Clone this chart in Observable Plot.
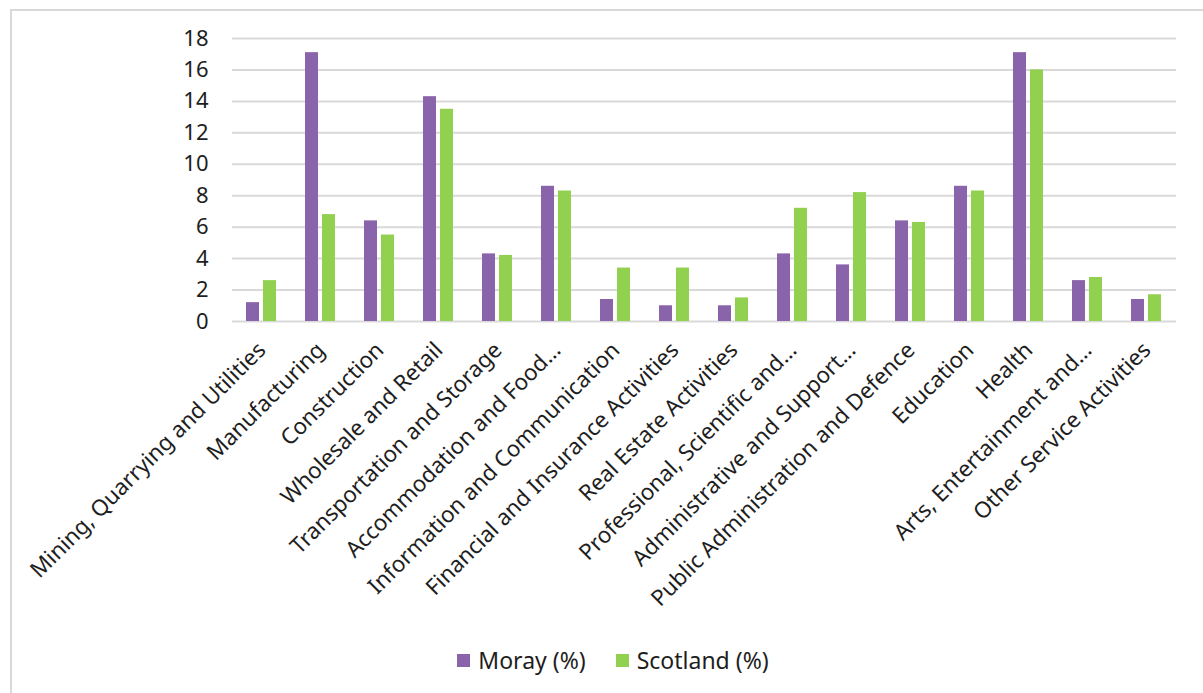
<!DOCTYPE html>
<html>
<head>
<meta charset="utf-8">
<script src="https://cdn.jsdelivr.net/npm/d3@7"></script>
<script src="https://cdn.jsdelivr.net/npm/@observablehq/plot@0.6"></script>
<style>
  html, body { margin: 0; padding: 0; background: #fff; overflow: hidden; width: 1203px; height: 693px; }
  #frame { position: absolute; left: 10px; top: 9px; width: 1300px; height: 800px; border: 2px solid #d9d9d9; box-sizing: border-box; }
  #chart { position: absolute; left: 0; top: 0; }
  #legend { position: absolute; left: 0; top: 644px; width: 1226px; display: flex; justify-content: center; gap: 30px;
            font-family: "Noto Sans", sans-serif; font-size: 23px; color: #1e1e1e; }
  .item { display: flex; align-items: center; gap: 8px; }
  .sw { width: 13px; height: 13px; display: inline-block; }
</style>
</head>
<body>
<div id="frame"></div>
<div id="chart"></div>
<div id="legend"></div>
<script>
const categories = [
  "Mining, Quarrying and Utilities",
  "Manufacturing",
  "Construction",
  "Wholesale and Retail",
  "Transportation and Storage",
  "Accommodation and Food…",
  "Information and Communication",
  "Financial and Insurance Activities",
  "Real Estate Activities",
  "Professional, Scientific and…",
  "Administrative and Support…",
  "Public Administration and Defence",
  "Education",
  "Health",
  "Arts, Entertainment and…",
  "Other Service Activities"
];
const moray    = [1.2, 17.1, 6.4, 14.3, 4.3, 8.6, 1.4, 1.0, 1.0, 4.3, 3.6, 6.4, 8.6, 17.1, 2.6, 1.4];
const scotland = [2.6, 6.8, 5.5, 13.5, 4.2, 8.3, 3.4, 3.4, 1.5, 7.2, 8.2, 6.3, 8.3, 16.0, 2.8, 1.7];
const series = ["Moray (%)", "Scotland (%)"];
const colors = ["#8a64ab", "#92d050"];
const yTicks = [0, 2, 4, 6, 8, 10, 12, 14, 16, 18];

const data = categories.flatMap((c, i) => [
  {category: c, series: series[0], value: moray[i]},
  {category: c, series: series[1], value: scotland[i]}
]);

const chart = Plot.plot({
  width: 1203,
  height: 640,
  marginLeft: 230,
  marginRight: 25,
  marginTop: 38,
  marginBottom: 319,
  style: {fontFamily: "Noto Sans, sans-serif", fontSize: "22px", color: "#1e1e1e", background: "transparent"},
  fx: {domain: categories, padding: 0, label: null},
  x: {domain: series, axis: null, paddingInner: 0.235, paddingOuter: 0.84},
  y: {domain: [0, 18], label: null},
  color: {domain: series, range: colors},
  marks: [
    Plot.gridY(yTicks, {stroke: "#d9d9d9", strokeOpacity: 1, strokeWidth: 2}),
    Plot.barY(data, {fx: "category", x: "series", y: "value", fill: "series"}),
    Plot.axisY(yTicks, {tickSize: 0, tickPadding: 24, label: null, fontSize: 22}),
    Plot.axisFx({anchor: "bottom", tickRotate: -45, tickSize: 0, tickPadding: 25, label: null, fontSize: 22.3})
  ]
});
document.getElementById("chart").appendChild(chart);

const legend = document.getElementById("legend");
series.forEach((s, i) => {
  const item = document.createElement("div");
  item.className = "item";
  const sw = document.createElement("span");
  sw.className = "sw";
  sw.style.background = colors[i];
  const t = document.createElement("span");
  t.textContent = s;
  item.appendChild(sw);
  item.appendChild(t);
  legend.appendChild(item);
});
</script>
</body>
</html>
